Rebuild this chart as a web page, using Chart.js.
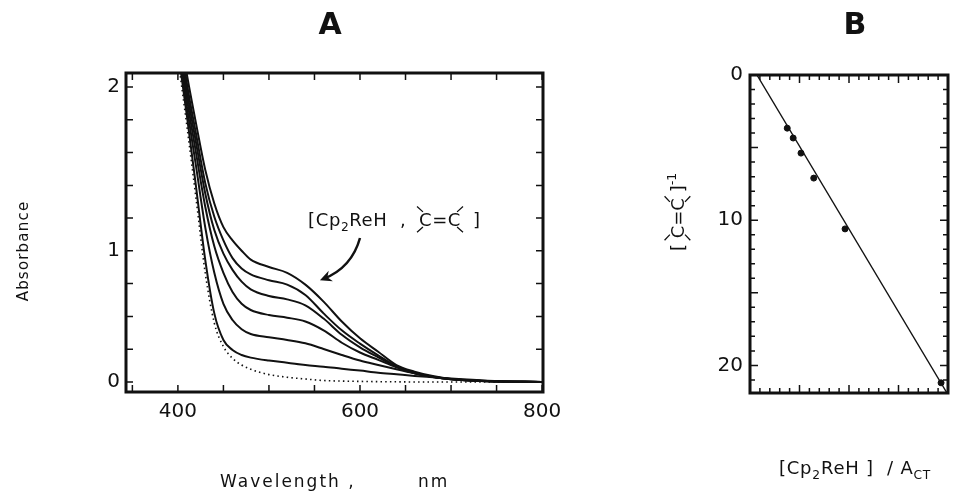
<!DOCTYPE html>
<html>
<head>
<meta charset="utf-8">
<script src="https://cdn.jsdelivr.net/npm/chart.js@4.4.1/dist/chart.umd.min.js"></script>
<style>
    body { margin: 0; background: #fff; width: 953px; height: 494px; overflow: hidden; position: relative; }
    #wrapA { position: absolute; left: 0; top: 0; width: 600px; height: 494px; }
    #wrapB { position: absolute; left: 600px; top: 0; width: 353px; height: 494px; }
</style>
</head>
<body>
<div id="wrapA"><canvas id="chartA" width="600" height="494"></canvas></div>
<div id="wrapB"><canvas id="chartB" width="353" height="494"></canvas></div>
<script>
// panel A: absorption spectra
const wavelengths = [400, 410, 420, 430, 440, 450, 460, 470, 480, 500, 520, 540, 560, 580, 600, 620, 640, 660, 680, 700, 740, 800];
const blank = [2.2, 1.73, 1.24, 0.74, 0.40, 0.24, 0.16, 0.115, 0.086, 0.05, 0.032, 0.02, 0.01, 0.006, 0.004, 0.002, 0.001, 0, 0, 0, 0, 0];
const spec1 = [2.25, 1.80, 1.32, 0.83, 0.465, 0.285, 0.217, 0.183, 0.165, 0.145, 0.131, 0.115, 0.104, 0.09, 0.077, 0.063, 0.052, 0.041, 0.032, 0.023, 0.009, 0];
const spec2 = [2.3, 1.86, 1.46, 1.05, 0.74, 0.53, 0.42, 0.357, 0.325, 0.303, 0.285, 0.262, 0.224, 0.183, 0.145, 0.115, 0.086, 0.059, 0.036, 0.02, 0.006, 0];
const spec3 = [2.35, 1.92, 1.55, 1.19, 0.92, 0.74, 0.61, 0.53, 0.488, 0.454, 0.436, 0.41, 0.35, 0.266, 0.2, 0.15, 0.1, 0.059, 0.034, 0.018, 0.005, 0];
const spec4 = [2.4, 1.97, 1.62, 1.28, 1.03, 0.87, 0.76, 0.68, 0.628, 0.583, 0.56, 0.52, 0.43, 0.32, 0.235, 0.167, 0.104, 0.059, 0.034, 0.018, 0.005, 0];
const spec5 = [2.45, 2.02, 1.68, 1.35, 1.12, 0.96, 0.84, 0.77, 0.73, 0.69, 0.66, 0.59, 0.465, 0.35, 0.26, 0.18, 0.108, 0.063, 0.036, 0.018, 0.006, 0];
const spec6 = [2.45, 2.08, 1.75, 1.44, 1.21, 1.05, 0.96, 0.89, 0.83, 0.78, 0.74, 0.66, 0.545, 0.41, 0.296, 0.205, 0.115, 0.07, 0.04, 0.02, 0.005, 0];
const xTicksA = [350, 400, 450, 500, 550, 600, 650, 700, 750, 800];
const xLabelsA = ['', '400', '', '', '', '600', '', '', '', '800'];
const yTicksA = [0, 0.222, 0.444, 0.667, 0.889, 1.111, 1.333, 1.556, 1.778, 2];
const yLabelsA = ['0', '', '', '', '1', '', '', '', '', '2'];

// panel B: reciprocal plot
const ratioB = [3.76, 4.36, 5.15, 6.44, 9.6, 19.3];
const invAlkene = [3.66, 4.34, 5.38, 7.1, 10.6, 21.2];
const fitX = [0.7, 19.9];
const fitY = [0, 21.9];
const xTicksB = [0, 1, 2, 3, 4, 5, 6, 7, 8, 9, 10, 11, 12, 13, 14, 15, 16, 17, 18, 19, 20];
const yTicksB = [0, 1, 2, 3, 4, 5, 6, 7, 8, 9, 10, 11, 12, 13, 14, 15, 16, 17, 18, 19, 20, 21];
const yLabelsB = {0: '0', 10: '10', 20: '20'};

const INK = '#111';
const FONT = '"DejaVu Sans", sans-serif';

function pts(xs, ys) {
    return xs.map((x, i) => ({x: x, y: ys[i]}));
}

// text with sub/superscripts and the >C=C< group
function partsWidth(ctx, parts, size) {
    let w = 0;
    parts.forEach(p => {
        const s = p.sub || p.sup ? size * 0.68 : size;
        ctx.font = s + 'px ' + FONT;
        w += ctx.measureText(p.t).width + (p.gap || 0);
    });
    return w;
}
function drawParts(ctx, x, y, parts, size) {
    ctx.textAlign = 'left';
    ctx.textBaseline = 'alphabetic';
    parts.forEach(p => {
        const s = p.sub || p.sup ? size * 0.68 : size;
        ctx.font = s + 'px ' + FONT;
        let yy = y;
        if (p.sub) yy += size * 0.3;
        if (p.sup) yy -= size * 0.45;
        ctx.fillText(p.t, x, yy);
        const w = ctx.measureText(p.t).width;
        if (p.alkene) {
            const wc = ctx.measureText('C').width;
            const h = size * 0.73;
            ctx.lineWidth = 1.3;
            ctx.beginPath();
            ctx.moveTo(x + wc * 0.3, y - h - 1); ctx.lineTo(x - wc * 0.15, y - h - size * 0.35);
            ctx.moveTo(x + wc * 0.3, y + 1); ctx.lineTo(x - wc * 0.15, y + size * 0.35);
            ctx.moveTo(x + w - wc * 0.3, y - h - 1); ctx.lineTo(x + w + wc * 0.15, y - h - size * 0.35);
            ctx.moveTo(x + w - wc * 0.3, y + 1); ctx.lineTo(x + w + wc * 0.15, y + size * 0.35);
            ctx.stroke();
        }
        x += w + (p.gap || 0);
    });
}

// frame and inward ticks on all four sides
function frameTicks(tick, bigEvery) {
    return {
        id: 'frameTicks',
        afterDraw(chart) {
            const ctx = chart.ctx;
            const a = chart.chartArea;
            const xs = chart.scales.x, ys = chart.scales.y;
            ctx.save();
            ctx.strokeStyle = INK;
            ctx.lineWidth = 1.5;
            ctx.beginPath();
            xs.ticks.forEach((t, i) => {
                const px = xs.getPixelForValue(t.value);
                const len = bigEvery && i % bigEvery === 0 ? tick * 1.6 : tick;
                ctx.moveTo(px, a.bottom); ctx.lineTo(px, a.bottom - len);
                ctx.moveTo(px, a.top); ctx.lineTo(px, a.top + len);
            });
            ys.ticks.forEach((t, i) => {
                const py = ys.getPixelForValue(t.value);
                const len = bigEvery && i % bigEvery === 0 ? tick * 1.6 : tick;
                ctx.moveTo(a.left, py); ctx.lineTo(a.left + len, py);
                ctx.moveTo(a.right, py); ctx.lineTo(a.right - len, py);
            });
            ctx.stroke();
            ctx.lineWidth = 3;
            ctx.strokeRect(a.left, a.top, a.right - a.left, a.bottom - a.top);
            ctx.restore();
        }
    };
}

const labelsA = {
    id: 'labelsA',
    afterDraw(chart) {
        const ctx = chart.ctx;
        const xs = chart.scales.x, ys = chart.scales.y;
        ctx.save();
        ctx.fillStyle = INK;
        ctx.strokeStyle = INK;
        // panel letter
        ctx.font = 'bold 30px ' + FONT;
        ctx.textAlign = 'center';
        ctx.textBaseline = 'middle';
        ctx.fillText('A', 330, 26);
        // axis titles
        ctx.font = '15px ' + FONT;
        ctx.letterSpacing = '1.2px';
        ctx.save();
        ctx.translate(24, 251);
        ctx.rotate(-Math.PI / 2);
        ctx.fillText('Absorbance', 0, 0);
        ctx.restore();
        ctx.font = '17px ' + FONT;
        ctx.letterSpacing = '2px';
        ctx.textAlign = 'left';
        ctx.textBaseline = 'alphabetic';
        ctx.fillText('Wavelength ,', 220, 487);
        ctx.fillText('nm', 418, 487);
        ctx.letterSpacing = '0.6px';
        // complex annotation + arrow
        const ax = xs.getPixelForValue(543), ay = ys.getPixelForValue(1.105) + 7;
        drawParts(ctx, ax, ay, [
            {t: '[Cp'}, {t: '2', sub: true}, {t: 'ReH  ,  '},
            {t: 'C=C', alkene: true, gap: 12}, {t: ']'}
        ], 18);
        ctx.letterSpacing = '0px';
        const p0 = [xs.getPixelForValue(600), ys.getPixelForValue(0.976)];
        const pc = [xs.getPixelForValue(591), ys.getPixelForValue(0.776)];
        const p1 = [xs.getPixelForValue(556), ys.getPixelForValue(0.69)];
        ctx.lineWidth = 2.5;
        ctx.beginPath();
        ctx.moveTo(p0[0], p0[1]);
        ctx.quadraticCurveTo(pc[0], pc[1], p1[0] + 4, p1[1] - 1.5);
        ctx.stroke();
        const ang = Math.atan2(p1[1] - pc[1], p1[0] - pc[0]);
        ctx.beginPath();
        ctx.moveTo(p1[0], p1[1]);
        ctx.lineTo(p1[0] - 13 * Math.cos(ang - 0.45), p1[1] - 13 * Math.sin(ang - 0.45));
        ctx.lineTo(p1[0] - 8 * Math.cos(ang), p1[1] - 8 * Math.sin(ang));
        ctx.lineTo(p1[0] - 13 * Math.cos(ang + 0.45), p1[1] - 13 * Math.sin(ang + 0.45));
        ctx.closePath();
        ctx.fill();
        ctx.restore();
    }
};

const labelsB = {
    id: 'labelsB',
    afterDraw(chart) {
        const ctx = chart.ctx;
        ctx.save();
        ctx.fillStyle = INK;
        ctx.strokeStyle = INK;
        ctx.font = 'bold 30px ' + FONT;
        ctx.textAlign = 'center';
        ctx.textBaseline = 'middle';
        ctx.fillText('B', 255, 26);
        // x label
        ctx.letterSpacing = '0.8px';
        const xParts = [{t: '[Cp'}, {t: '2', sub: true}, {t: 'ReH ]  / A'}, {t: 'CT', sub: true}];
        const wx = partsWidth(ctx, xParts, 18);
        drawParts(ctx, 255 - wx / 2, 474, xParts, 18);
        ctx.letterSpacing = '0px';
        // rotated y title
        const yParts = [{t: '[ '}, {t: 'C=C', alkene: true, gap: 6}, {t: ']'}, {t: '-1', sup: true}];
        const wy = partsWidth(ctx, yParts, 18);
        ctx.translate(84, 212);
        ctx.rotate(-Math.PI / 2);
        drawParts(ctx, -wy / 2, 0, yParts, 18);
        ctx.restore();
    }
};

function specSet(ys, dotted) {
    return {
        data: pts(wavelengths, ys),
        borderColor: INK,
        borderWidth: dotted ? 1.6 : 2,
        borderDash: dotted ? [1.5, 3.2] : [],
        pointRadius: 0,
        cubicInterpolationMode: 'monotone',
        clip: 0
    };
}

new Chart(document.getElementById('chartA').getContext('2d'), {
    type: 'line',
    data: {
        datasets: [
            specSet(blank, true),
            specSet(spec1), specSet(spec2), specSet(spec3),
            specSet(spec4), specSet(spec5), specSet(spec6)
        ]
    },
    options: {
        responsive: false,
        animation: false,
        layout: {padding: {left: 96, top: 73, right: 57, bottom: 0}},
        plugins: {legend: {display: false}, tooltip: {enabled: false}},
        scales: {
            x: {
                type: 'linear', min: 343, max: 801,
                afterBuildTicks: s => { s.ticks = xTicksA.map(v => ({value: v})); },
                afterFit: s => { s.height = 102; },
                grid: {display: false, drawTicks: false},
                border: {display: false},
                ticks: {
                    autoSkip: false, maxRotation: 0, padding: 8, color: INK,
                    font: {family: FONT, size: 20},
                    callback: (v) => xLabelsA[xTicksA.indexOf(v)]
                }
            },
            y: {
                type: 'linear', min: -0.068, max: 2.095,
                afterBuildTicks: s => { s.ticks = yTicksA.map(v => ({value: v})); },
                afterFit: s => { s.width = 30; },
                grid: {display: false, drawTicks: false},
                border: {display: false},
                ticks: {
                    autoSkip: false, padding: 6, color: INK,
                    font: {family: FONT, size: 20},
                    callback: (v) => yLabelsA[yTicksA.indexOf(v)]
                }
            }
        }
    },
    plugins: [frameTicks(7, 0), labelsA]
});

new Chart(document.getElementById('chartB').getContext('2d'), {
    type: 'scatter',
    data: {
        datasets: [
            {
                data: pts(ratioB, invAlkene),
                backgroundColor: INK, borderColor: INK,
                pointRadius: 3, pointStyle: 'circle', clip: 4
            },
            {
                data: pts(fitX, fitY),
                showLine: true, borderColor: INK, borderWidth: 1.4,
                pointRadius: 0, clip: 0
            }
        ]
    },
    options: {
        responsive: false,
        animation: false,
        layout: {padding: {left: 110, top: 75, right: 1, bottom: 0}},
        plugins: {legend: {display: false}, tooltip: {enabled: false}},
        scales: {
            x: {
                type: 'linear', min: 0, max: 20,
                afterBuildTicks: s => { s.ticks = xTicksB.map(v => ({value: v})); },
                afterFit: s => { s.height = 101; },
                grid: {display: false, drawTicks: false},
                border: {display: false},
                ticks: {display: false}
            },
            y: {
                type: 'linear', min: 0, max: 21.9, reverse: true,
                afterBuildTicks: s => { s.ticks = yTicksB.map(v => ({value: v})); },
                afterFit: s => { s.width = 40; },
                grid: {display: false, drawTicks: false},
                border: {display: false},
                ticks: {
                    autoSkip: false, padding: 7, color: INK,
                    font: {family: FONT, size: 20},
                    callback: (v) => yLabelsB[v] || ''
                }
            }
        }
    },
    plugins: [frameTicks(5, 5), labelsB]
});
</script>
</body>
</html>
